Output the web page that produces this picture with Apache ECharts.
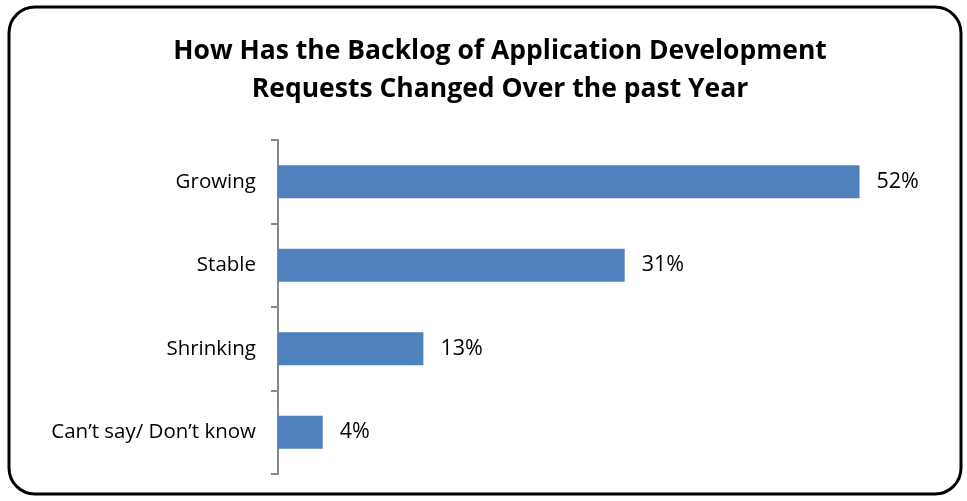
<!DOCTYPE html>
<html style="height: 100%;">
<head>
    <meta charset="UTF-8">
    <script src="https://cdn.jsdelivr.net/npm/echarts/dist/echarts.min.js"></script>
</head>
<body style="height: 100%; margin: 0; background: #fff;">
    <div id="chart" style="width: 967px; height: 501px;"></div>
    <script type="text/javascript">
        // chart data
        var categories = ['Growing', 'Stable', 'Shrinking', 'Can\u2019t say/ Don\u2019t know'];
        var values = [52, 31, 13, 4];

        var chart = echarts.init(document.getElementById('chart'));

        var option = {
            animation: false,
            textStyle: { fontFamily: 'Open Sans' },
            title: {
                text: 'How Has the Backlog of Application Development\nRequests Changed Over the past Year',
                left: 495,
                textAlign: 'center',
                top: 27,
                textStyle: {
                    fontFamily: 'Open Sans',
                    fontSize: 26.5,
                    fontWeight: 'bold',
                    color: '#000',
                    lineHeight: 38
                }
            },
            graphic: [{
                type: 'rect',
                shape: { x: 9, y: 7, width: 952, height: 487, r: 26 },
                style: { fill: 'none', stroke: '#000', lineWidth: 3 },
                silent: true
            }],
            grid: {
                left: 278,
                top: 140,
                width: 671,
                height: 334
            },
            xAxis: {
                type: 'value',
                min: 0,
                max: 60,
                show: false
            },
            yAxis: {
                type: 'category',
                data: categories,
                inverse: true,
                axisLine: { show: true, lineStyle: { color: '#888', width: 2 } },
                axisTick: { show: true, length: 7, lineStyle: { color: '#888', width: 2 } },
                axisLabel: { color: '#000', fontSize: 20.5, margin: 22 }
            },
            series: [{
                type: 'bar',
                data: values,
                barWidth: 33,
                itemStyle: { color: '#4F81BD' },
                label: {
                    show: true,
                    position: 'right',
                    distance: 17,
                    formatter: '{c}%',
                    color: '#000',
                    fontSize: 21.5
                }
            }]
        };

        chart.setOption(option);
        window.addEventListener('resize', chart.resize);
    </script>
</body>
</html>
